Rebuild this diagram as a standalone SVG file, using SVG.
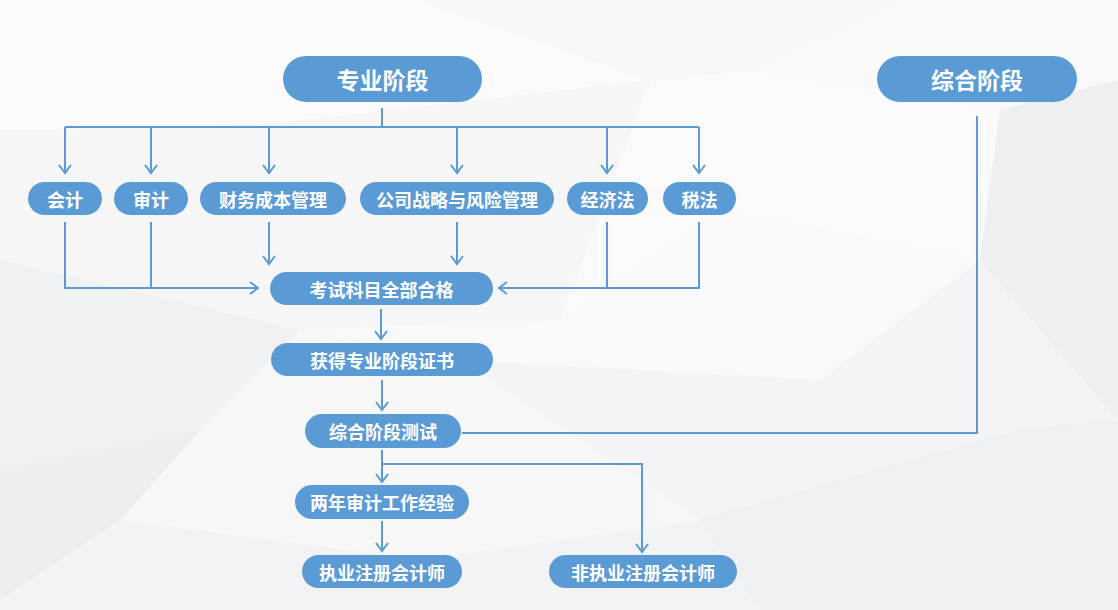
<svg xmlns="http://www.w3.org/2000/svg" width="1118" height="610" viewBox="0 0 1118 610">
  <defs>
    <style>
      .node { fill: #5b9bd5; }
      .lbl { fill: #ffffff; font-family: "Noto Sans CJK SC", "Noto Sans", sans-serif; font-weight: 700; font-size: 18px; text-anchor: middle; dominant-baseline: central; }
      .big { font-size: 23px; }
      .conn { fill: none; stroke: #5b9bd5; stroke-width: 2; }
      .bg { stroke: none; }
    </style>
    <marker id="arr" markerUnits="userSpaceOnUse" markerWidth="14" markerHeight="14" viewBox="0 0 14 14" refX="10" refY="7" orient="auto">
      <path d="M2,1 L10,7 L2,13" fill="none" stroke="#5b9bd5" stroke-width="2"/>
    </marker>
  </defs>

  <!-- background -->
  <g id="background">
    <rect x="0" y="0" width="1118" height="610" fill="#f2f3f5"/>
    <polygon class="bg" points="0,0 420,0 650,80 260,125 0,130" fill="#fbfbfc"/>
    <polygon class="bg" points="420,0 900,0 750,70 650,80" fill="#f7f7f8"/>
    <polygon class="bg" points="900,0 1118,0 1118,80 1000,110 750,70" fill="#f9f9fa"/>
    <polygon class="bg" points="0,130 260,125 650,80 560,320 300,330 0,260" fill="#f6f6f7"/>
    <polygon class="bg" points="650,80 750,70 1000,110 980,260 720,210 560,320" fill="#fafafa"/>
    <polygon class="bg" points="1000,110 1118,80 1118,420 980,260" fill="#eeeff1"/>
    <polygon class="bg" points="0,260 300,330 200,430 0,470" fill="#f0f1f3"/>
    <polygon class="bg" points="300,330 560,320 720,210 980,260 820,380 460,360" fill="#f9f9fa"/>
    <polygon class="bg" points="460,360 820,380 980,260 1118,420 1020,430 700,520" fill="#f4f4f6"/>
    <polygon class="bg" points="200,430 300,330 460,360 700,520 420,560 120,520" fill="#f7f7f8"/>
    <polygon class="bg" points="0,470 200,430 120,520 0,600" fill="#eceef0"/>
    <polygon class="bg" points="700,520 1020,430 1118,420 1118,610 760,610" fill="#eff0f2"/>
    <polygon class="bg" points="0,600 120,520 420,560 760,610 0,610" fill="#f3f3f5"/>
  </g>

  <!-- connectors -->
  <g id="connectors">
    <path class="conn" d="M382,108 V127"/>
    <path class="conn" d="M65,127 H699"/>
    <path class="conn" d="M65,127 V173" marker-end="url(#arr)"/>
    <path class="conn" d="M151,127 V173" marker-end="url(#arr)"/>
    <path class="conn" d="M269,127 V173" marker-end="url(#arr)"/>
    <path class="conn" d="M457,127 V173" marker-end="url(#arr)"/>
    <path class="conn" d="M607,127 V173" marker-end="url(#arr)"/>
    <path class="conn" d="M699,127 V173" marker-end="url(#arr)"/>

    <path class="conn" d="M65,222 V288 H258" marker-end="url(#arr)"/>
    <path class="conn" d="M151,222 V288"/>
    <path class="conn" d="M269,222 V264" marker-end="url(#arr)"/>
    <path class="conn" d="M457,222 V264" marker-end="url(#arr)"/>
    <path class="conn" d="M699,222 V288 H499" marker-end="url(#arr)"/>
    <path class="conn" d="M607,222 V288"/>

    <path class="conn" d="M381,309 V339" marker-end="url(#arr)"/>
    <path class="conn" d="M382,380 V410" marker-end="url(#arr)"/>
    <path class="conn" d="M977,116 V433 H462"/>
    <path class="conn" d="M382,450 V482" marker-end="url(#arr)"/>
    <path class="conn" d="M382,464 H642 V552" marker-end="url(#arr)"/>
    <path class="conn" d="M382,521 V551" marker-end="url(#arr)"/>
  </g>

  <!-- nodes -->
  <g id="node-zhuanye">
    <rect class="node" x="283" y="56" width="199" height="46" rx="23"/>
    <text class="lbl big" x="382.5" y="79">专业阶段</text>
  </g>
  <g id="node-zonghe">
    <rect class="node" x="877" y="56" width="200" height="46" rx="23"/>
    <text class="lbl big" x="977" y="79">综合阶段</text>
  </g>

  <g id="node-kuaiji">
    <rect class="node" x="28" y="182" width="74" height="33" rx="16.5"/>
    <text class="lbl" x="65" y="198.5">会计</text>
  </g>
  <g id="node-shenji">
    <rect class="node" x="114" y="182" width="74" height="33" rx="16.5"/>
    <text class="lbl" x="151" y="198.5">审计</text>
  </g>
  <g id="node-caiwu">
    <rect class="node" x="200" y="182" width="146" height="33" rx="16.5"/>
    <text class="lbl" x="273" y="198.5">财务成本管理</text>
  </g>
  <g id="node-gongsi">
    <rect class="node" x="360" y="182" width="194" height="33" rx="16.5"/>
    <text class="lbl" x="457" y="198.5">公司战略与风险管理</text>
  </g>
  <g id="node-jingjifa">
    <rect class="node" x="567" y="182" width="81" height="33" rx="16.5"/>
    <text class="lbl" x="607.5" y="198.5">经济法</text>
  </g>
  <g id="node-shuifa">
    <rect class="node" x="663" y="182" width="73" height="33" rx="16.5"/>
    <text class="lbl" x="699.5" y="198.5">税法</text>
  </g>

  <g id="node-kaoshi">
    <rect class="node" x="270" y="272" width="223" height="33" rx="16.5"/>
    <text class="lbl" x="381.5" y="288.5">考试科目全部合格</text>
  </g>
  <g id="node-huode">
    <rect class="node" x="271" y="343" width="222" height="33" rx="16.5"/>
    <text class="lbl" x="382" y="359.5">获得专业阶段证书</text>
  </g>
  <g id="node-ceshi">
    <rect class="node" x="305" y="414" width="156" height="34" rx="17"/>
    <text class="lbl" x="383" y="431">综合阶段测试</text>
  </g>
  <g id="node-liangnian">
    <rect class="node" x="295" y="485" width="174" height="34" rx="17"/>
    <text class="lbl" x="382" y="502">两年审计工作经验</text>
  </g>
  <g id="node-zhiye">
    <rect class="node" x="302" y="555" width="160" height="33" rx="16.5"/>
    <text class="lbl" x="382" y="571.5">执业注册会计师</text>
  </g>
  <g id="node-feizhiye">
    <rect class="node" x="549" y="555" width="188" height="33" rx="16.5"/>
    <text class="lbl" x="643" y="571.5">非执业注册会计师</text>
  </g>
</svg>
